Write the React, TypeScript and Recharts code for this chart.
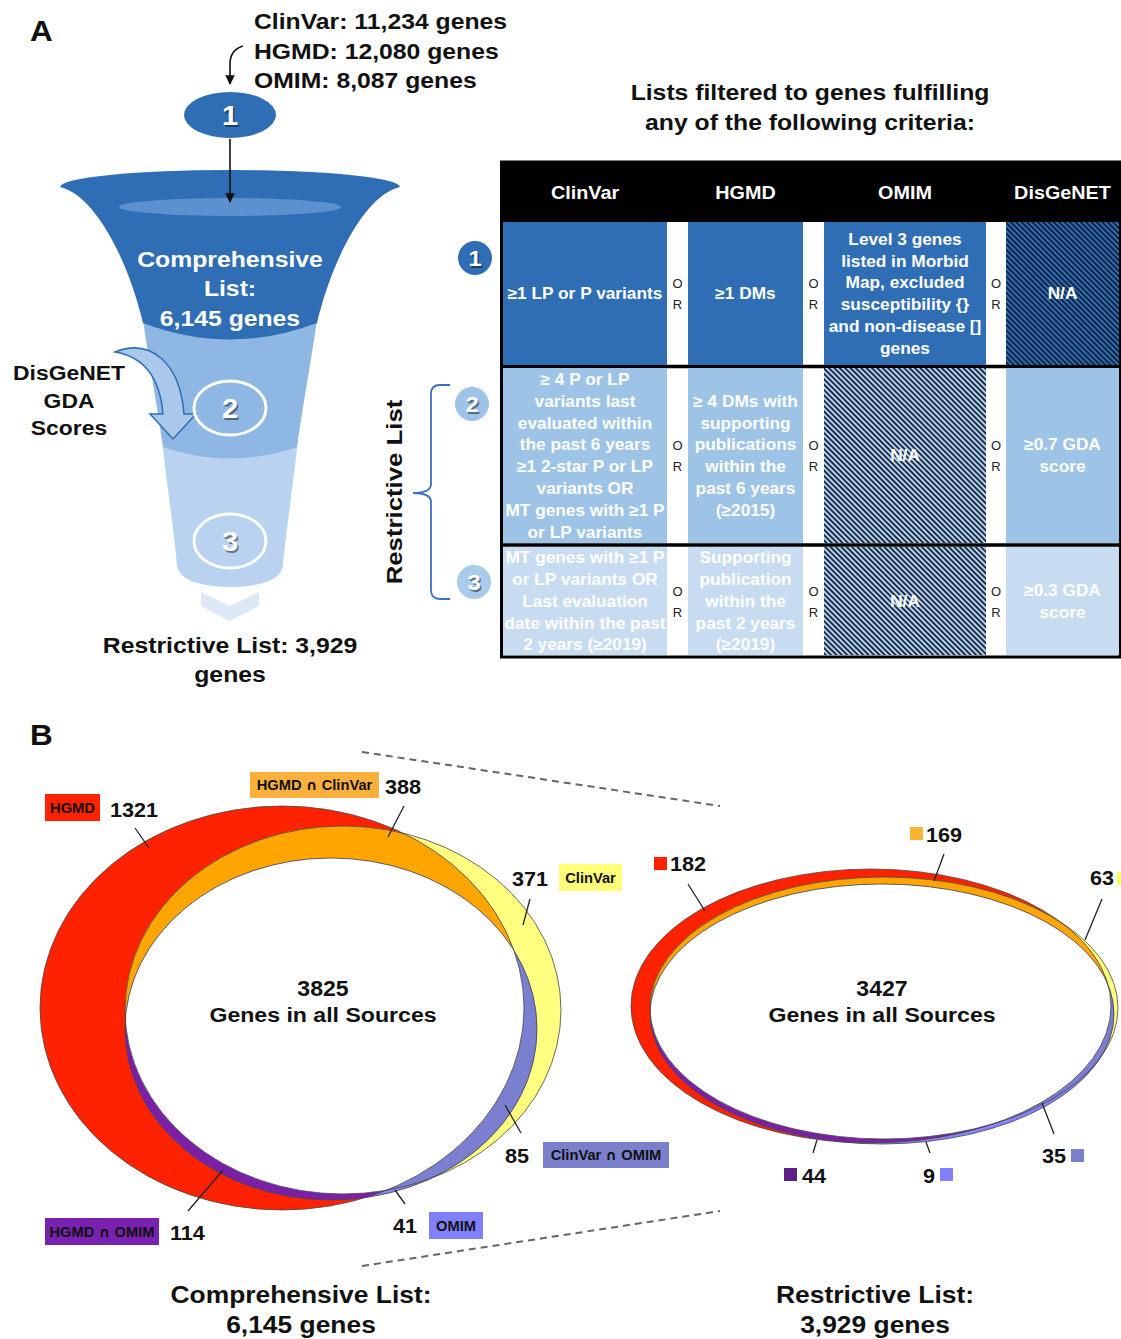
import React from 'react';
import { ComposedChart, XAxis, YAxis, ReferenceArea, Customized } from 'recharts';

const W = 1121;
const H = 1339;
const FONT = '"Liberation Sans", Arial, Helvetica, sans-serif';

// ---------- data ----------
const sourceNames = ['ClinVar', 'HGMD', 'OMIM'];
const sourceGeneCounts = [11234, 12080, 8087];
const listNames = ['Comprehensive List', 'Restrictive List'];
const listGeneCounts = [6145, 3929];

const tableHeaders = ['ClinVar', 'HGMD', 'OMIM', 'DisGeNET'];
const tier1Criteria = [
  ['≥1 LP or P variants'],
  ['≥1 DMs'],
  ['Level 3 genes', 'listed in Morbid', 'Map, excluded', 'susceptibility {}', 'and non-disease []', 'genes'],
  null,
];
const tier2Criteria = [
  ['≥ 4 P or LP', 'variants last', 'evaluated within', 'the past 6 years', '≥1 2-star P or LP', 'variants OR', 'MT genes with ≥1 P', 'or LP variants'],
  ['≥ 4 DMs with', 'supporting', 'publications', 'within the', 'past 6 years', '(≥2015)'],
  null,
  ['≥0.7 GDA', 'score'],
];
const tier3Criteria = [
  ['MT genes with ≥1 P', 'or LP variants OR', 'Last evaluation', 'date within the past', '2 years (≥2019)'],
  ['Supporting', 'publication', 'within the', 'past 2 years', '(≥2019)'],
  null,
  ['≥0.3 GDA', 'score'],
];
const tiers = [tier1Criteria, tier2Criteria, tier3Criteria];

const vennRegions = ['HGMD', 'HGMD ∩ ClinVar', 'ClinVar', 'ClinVar ∩ OMIM', 'OMIM', 'HGMD ∩ OMIM'];
const comprehensiveCounts = [1321, 388, 371, 85, 41, 114];
const restrictiveCounts = [182, 169, 63, 35, 9, 44];
const allSourceCounts = [3825, 3427];

const fmt = (n: number) => n.toLocaleString('en-US');

// ---------- layout / styles ----------
const BLUE = '#2f6eb5';
const colSpans = [[503, 667], [688, 803], [824, 986], [1006, 1119]];
const orCenters = [677.5, 813.5, 996];
const rowSpans = [[222, 365], [368, 543], [547, 655]];
const rowFills = [BLUE, '#9dc3e6', '#c7dcf1'];
const hatchFills = [BLUE, '#b4d2ee', '#b4d2ee'];

const boxColors = ['#ff2200', '#f9b03c', '#ffff7a', '#7b80cc', '#8080ff', '#7a22b0'];
const squareColors = ['#ff2200', '#f9b233', '#ffff66', '#7b80cc', '#8080ff', '#5b1f85'];
const FILL = { hgmd: '#ff2200', clinvar: '#ffff80', omim: '#8585ff', hc: '#ffa500', ho: '#7a1fa6', co: '#7b7fd0' };

const LEFT_LABELS = [
  { box: [45, 794, 55, 27], num: [110, 817], line: [135, 828, 149, 848] },
  { box: [250, 772, 129, 26], num: [385, 794], line: [404, 806, 388, 837] },
  { box: [559, 864, 63, 27], num: [512, 886], line: [530, 899, 523, 925] },
  { box: [543, 1142, 126, 26], num: [505, 1163], line: [505, 1105, 521, 1133] },
  { box: [429, 1212, 54, 27], num: [393, 1233], line: [395, 1190, 405, 1204] },
  { box: [45, 1218, 114, 27], num: [170, 1240], line: [223, 1170, 188, 1211] },
];
const RIGHT_LABELS = [
  { sq: [654, 857], num: [670, 871], line: [688, 884, 705, 911] },
  { sq: [910, 827], num: [926, 842], line: [944, 854, 934, 881] },
  { sq: [1117, 872], num: [1090, 885], line: [1102, 899, 1085, 940] },
  { sq: [1071, 1149], num: [1042, 1163], line: [1042, 1103, 1054, 1134] },
  { sq: [940, 1168], num: [923, 1183], line: [926, 1142, 930, 1153] },
  { sq: [784, 1168], num: [802, 1183], line: [817, 1140, 813, 1153] },
];

type E = { cx: number; cy: number; rx: number; ry: number };
const VENN_L: Record<string, E> = {
  R: { cx: 282, cy: 1008, rx: 242, ry: 202 },
  Y: { cx: 343, cy: 1010, rx: 218, ry: 184 },
  O: { cx: 331, cy: 1029, rx: 206, ry: 171 },
};
const VENN_R: Record<string, E> = {
  R: { cx: 871, cy: 1006, rx: 240, ry: 137 },
  Y: { cx: 884, cy: 1008, rx: 234, ry: 131 },
  O: { cx: 882, cy: 1014, rx: 232, ry: 130 },
};

// ---------- helpers ----------
const T = ({ x, y, s = 16, sx = 1.08, fill = '#111', anchor = 'middle', weight = 700, rot = 0, children }: any) => (
  <text
    transform={`translate(${x},${y})${rot ? ` rotate(${rot})` : ''} scale(${sx},1)`}
    fontSize={s}
    fontWeight={weight}
    fill={fill}
    textAnchor={anchor}
    fontFamily={FONT}
  >
    {children}
  </text>
);

// the ∩ sign is missing from Liberation Sans, so take it from DejaVu
const withCap = (label: string) =>
  label.split('∩').flatMap((part, i) =>
    i === 0
      ? [part]
      : [
          <tspan key={i} fontFamily="'DejaVu Sans', sans-serif" fontWeight={700}>
            ∩
          </tspan>,
          part,
        ]
  );

const Num = ({ x, y, s = 26, children }: any) => (
  <g>
    <T x={x + 1.5} y={y + 1.5} s={s} fill="rgba(0,0,0,0.45)">{children}</T>
    <T x={x} y={y} s={s} fill="#fff">{children}</T>
  </g>
);

const Ell = ({ e, ...rest }: any) => <ellipse cx={e.cx} cy={e.cy} rx={e.rx} ry={e.ry} {...rest} />;

const CellLabel = ({ viewBox, lines, id, gap = 21.8, s = 16 }: any) => {
  if (!viewBox) return null;
  const { x, y, width, height } = viewBox;
  const cx = x + width / 2;
  const cy = y + height / 2;
  return (
    <g>
      <defs>
        <clipPath id={id}>
          <rect x={x} y={y} width={width} height={height} />
        </clipPath>
      </defs>
      <g clipPath={`url(#${id})`}>
        {lines.map((l: string, i: number) => (
          <T key={i} x={cx} y={cy + (i - (lines.length - 1) / 2) * gap + 5.7} s={s} sx={1.08} fill="#fff">
            {l}
          </T>
        ))}
      </g>
    </g>
  );
};

const HeaderLabel = ({ viewBox, text }: any) => {
  if (!viewBox) return null;
  return (
    <T x={viewBox.x + viewBox.width / 2} y={199} s={18} sx={1.1} fill="#fff">
      {text}
    </T>
  );
};

// ---------- drawings ----------
const Defs = () => (
  <defs>
    <pattern id="hatch" width="3.8" height="3.8" patternUnits="userSpaceOnUse" patternTransform="rotate(45)">
      <rect x="0" y="0" width="3.8" height="1.7" fill="#0b1a30" />
    </pattern>
    <marker id="arrowBlack" viewBox="0 0 10 10" refX="9" refY="5" markerWidth="6" markerHeight="6" orient="auto">
      <path d="M0,0 L10,5 L0,10 z" fill="#111" />
    </marker>
  </defs>
);

const Funnel = () => (
  <g>
    <T x={30} y={41} s={30} sx={1.05} anchor="start">A</T>
    {sourceNames.map((n, i) => (
      <T key={n} x={254} y={29 + i * 29.5} s={22.5} sx={1.1} anchor="start">
        {`${n}: ${fmt(sourceGeneCounts[i])} genes`}
      </T>
    ))}
    <path d="M 243 46 Q 230 50 230 64 L 230 84" fill="none" stroke="#111" strokeWidth={1.6} markerEnd="url(#arrowBlack)" />
    <ellipse cx={230} cy={115} rx={46} ry={23} fill={BLUE} />
    <Num x={230} y={125} s={27}>1</Num>

    {/* funnel sections */}
    <path d="M 201 592 L 230 606 L 259 592 L 259 606 L 230 621 L 201 606 Z" fill="#dce8f6" />
    <path d="M 161 430 C 166 480 174 530 177 565 Q 179 586 230 587 Q 281 586 283 565 C 286 530 294 480 299 430 Z" fill="#b8d2ef" />
    <path d="M 140 300 C 147 350 157 405 163 447 Q 230 470 297 447 C 303 405 313 350 320 300 Z" fill="#8fb7e3" />
    <path d="M 60 187 C 95 195 128 260 143 323 Q 230 356 317 323 C 332 260 365 195 400 187 A 170 17 0 0 0 60 187 Z" fill={BLUE} />
    <ellipse cx={230} cy={207} rx={111} ry={9} fill="#5c91cf" />
    <line x1={230} y1={139} x2={230} y2={202} stroke="#111" strokeWidth={1.6} markerEnd="url(#arrowBlack)" />

    <T x={230} y={267} s={22.5} sx={1.1} fill="#fff">Comprehensive</T>
    <T x={230} y={296} s={22.5} sx={1.1} fill="#fff">List:</T>
    <T x={230} y={326} s={22.5} sx={1.1} fill="#fff">{`${fmt(listGeneCounts[0])} genes`}</T>

    <path
      d="M 115 352 C 150 338 180 362 184 414 L 196 414 L 173 439 L 150 414 L 163 414 C 160 378 145 357 115 352 Z"
      fill="#a9c8ea"
      stroke={BLUE}
      strokeWidth={1.5}
    />
    <ellipse cx={230} cy={408} rx={36} ry={27} fill="none" stroke="#fff" strokeWidth={3} />
    <Num x={230} y={418} s={27}>2</Num>
    <ellipse cx={230} cy={541} rx={36} ry={27} fill="none" stroke="#fff" strokeWidth={3} />
    <Num x={230} y={551} s={27}>3</Num>

    <T x={69} y={380} s={20.8} sx={1.1}>DisGeNET</T>
    <T x={69} y={408} s={20.8} sx={1.1}>GDA</T>
    <T x={69} y={435} s={20.8} sx={1.1}>Scores</T>

    <T x={230} y={653} s={22.5} sx={1.1}>{`${listNames[1]}: ${fmt(listGeneCounts[1])}`}</T>
    <T x={230} y={682} s={22.5} sx={1.1}>genes</T>
  </g>
);

const TableDecor = () => (
  <g>
    <T x={810} y={100} s={22.5} sx={1.1}>Lists filtered to genes fulfilling</T>
    <T x={810} y={130} s={22.5} sx={1.1}>any of the following criteria:</T>

    {rowSpans.map(([y0, y1], r) => {
      const c = (y0 + y1) / 2;
      return orCenters.map((x, k) => (
        <g key={`${r}-${k}`}>
          <T x={x} y={c - 10 + 4.6} s={13} sx={1} weight={400} fill="#222">O</T>
          <T x={x} y={c + 11 + 4.6} s={13} sx={1} weight={400} fill="#222">R</T>
        </g>
      ));
    })}

    <line x1={501} y1={366.5} x2={1121} y2={366.5} stroke="#000" strokeWidth={3.5} />
    <line x1={501} y1={545} x2={1121} y2={545} stroke="#000" strokeWidth={3.5} />
    <rect x={501.5} y={162} width={618} height={495} fill="none" stroke="#000" strokeWidth={3} />

    <circle cx={475} cy={258} r={17} fill={BLUE} />
    <Num x={475} y={266} s={22}>1</Num>
    <circle cx={472} cy={404} r={17} fill="#9dc3e6" />
    <Num x={472} y={412} s={22}>2</Num>
    <circle cx={474} cy={582} r={17} fill="#a9cbea" />
    <Num x={474} y={590} s={22}>3</Num>

    <path
      d="M 450 385 L 440 385 Q 431 385 431 394 L 431 484 Q 431 493 413 493 Q 431 493 431 502 L 431 590 Q 431 599 440 599 L 450 599"
      fill="none"
      stroke="#3a6fc4"
      strokeWidth={1.8}
    />
    <T x={402} y={492} s={23} sx={1.12} rot={-90}>Restrictive List</T>
  </g>
);

const Venn = ({ id, g }: { id: string; g: Record<string, E> }) => (
  <g>
    <defs>
      <clipPath id={`${id}R`}>
        <Ell e={g.R} />
      </clipPath>
      <clipPath id={`${id}Y`}>
        <Ell e={g.Y} />
      </clipPath>
    </defs>
    <Ell e={g.R} fill={FILL.hgmd} />
    <Ell e={g.Y} fill={FILL.clinvar} />
    <Ell e={g.O} fill={FILL.omim} />
    <g clipPath={`url(#${id}R)`}>
      <Ell e={g.Y} fill={FILL.hc} />
      <Ell e={g.O} fill={FILL.ho} />
    </g>
    <g clipPath={`url(#${id}Y)`}>
      <Ell e={g.O} fill={FILL.co} />
    </g>
    <g clipPath={`url(#${id}R)`}>
      <g clipPath={`url(#${id}Y)`}>
        <Ell e={g.O} fill="#fff" />
      </g>
    </g>
    {['R', 'Y', 'O'].map((k) => (
      <Ell key={k} e={g[k]} fill="none" stroke="#444" strokeWidth={0.8} />
    ))}
  </g>
);

const VennPanel = () => (
  <g>
    <T x={30} y={745} s={30} sx={1.05} anchor="start">B</T>
    <line x1={362} y1={752} x2={720} y2={806} stroke="#666" strokeWidth={2} strokeDasharray="7 5" />
    <line x1={362} y1={1266} x2={720} y2={1211} stroke="#666" strokeWidth={2} strokeDasharray="7 5" />

    <Venn id="vl" g={VENN_L} />
    <Venn id="vr" g={VENN_R} />

    <T x={323} y={996} s={22} sx={1.05}>{allSourceCounts[0]}</T>
    <T x={323} y={1022} s={21} sx={1.1}>Genes in all Sources</T>
    <T x={882} y={996} s={22} sx={1.05}>{allSourceCounts[1]}</T>
    <T x={882} y={1022} s={21} sx={1.1}>Genes in all Sources</T>

    {LEFT_LABELS.map((L, i) => (
      <g key={`l${i}`}>
        <line x1={L.line[0]} y1={L.line[1]} x2={L.line[2]} y2={L.line[3]} stroke="#222" strokeWidth={1.3} />
        <rect x={L.box[0]} y={L.box[1]} width={L.box[2]} height={L.box[3]} fill={boxColors[i]} />
        <T x={L.box[0] + L.box[2] / 2} y={L.box[1] + L.box[3] / 2 + 5} s={14} sx={1.05}>
          {withCap(vennRegions[i])}
        </T>
        <T x={L.num[0]} y={L.num[1]} s={21} sx={1.03} anchor="start">
          {comprehensiveCounts[i]}
        </T>
      </g>
    ))}

    {RIGHT_LABELS.map((L, i) => (
      <g key={`r${i}`}>
        <line x1={L.line[0]} y1={L.line[1]} x2={L.line[2]} y2={L.line[3]} stroke="#222" strokeWidth={1.3} />
        <rect x={L.sq[0]} y={L.sq[1]} width={13} height={13} fill={squareColors[i]} />
        <T x={L.num[0]} y={L.num[1]} s={21} sx={1.03} anchor="start">
          {restrictiveCounts[i]}
        </T>
      </g>
    ))}

    <T x={301} y={1303} s={24} sx={1.1}>{`${listNames[0]}:`}</T>
    <T x={301} y={1333} s={24} sx={1.1}>{`${fmt(listGeneCounts[0])} genes`}</T>
    <T x={875} y={1303} s={24} sx={1.1}>{`${listNames[1]}:`}</T>
    <T x={875} y={1333} s={24} sx={1.1}>{`${fmt(listGeneCounts[1])} genes`}</T>
  </g>
);

// ---------- table cells via reference areas ----------
const tableAreas: React.ReactNode[] = [];
tableAreas.push(
  <ReferenceArea key="hdr" x1={501} x2={1120} y1={162} y2={222} fill="#000" fillOpacity={1} stroke="none" ifOverflow="visible" />
);
tableHeaders.forEach((h, c) => {
  tableAreas.push(
    <ReferenceArea
      key={`h${c}`}
      x1={colSpans[c][0]}
      x2={colSpans[c][1]}
      y1={162}
      y2={222}
      fill="none"
      stroke="none"
      ifOverflow="visible"
      label={(p: any) => <HeaderLabel {...p} text={h} />}
    />
  );
});
tiers.forEach((tier, r) => {
  tier.forEach((lines, c) => {
    const hatched = lines === null;
    tableAreas.push(
      <ReferenceArea
        key={`c${r}-${c}`}
        x1={colSpans[c][0]}
        x2={colSpans[c][1]}
        y1={rowSpans[r][0]}
        y2={rowSpans[r][1]}
        fill={hatched ? hatchFills[r] : rowFills[r]}
        fillOpacity={1}
        stroke="none"
        ifOverflow="visible"
        label={hatched ? undefined : (p: any) => <CellLabel {...p} lines={lines} id={`clip${r}${c}`} />}
      />
    );
    if (hatched) {
      tableAreas.push(
        <ReferenceArea
          key={`x${r}-${c}`}
          x1={colSpans[c][0]}
          x2={colSpans[c][1]}
          y1={rowSpans[r][0]}
          y2={rowSpans[r][1]}
          fill="url(#hatch)"
          fillOpacity={1}
          stroke="none"
          ifOverflow="visible"
          label={(p: any) => <CellLabel {...p} lines={['N/A']} id={`na${r}${c}`} />}
        />
      );
    }
  });
});

export default function App() {
  return (
    <div style={{ position: 'absolute', left: 0, top: 0, width: W, height: H, background: '#fff' }}>
      <ComposedChart width={W} height={H} margin={{ top: 0, right: 0, bottom: 0, left: 0 }}>
        <XAxis type="number" dataKey="x" domain={[0, W]} allowDataOverflow hide />
        <YAxis type="number" dataKey="y" domain={[0, H]} allowDataOverflow reversed hide />
        <Customized component={<Defs />} />
        {tableAreas}
        <Customized component={<Funnel />} />
        <Customized component={<TableDecor />} />
        <Customized component={<VennPanel />} />
      </ComposedChart>
    </div>
  );
}
